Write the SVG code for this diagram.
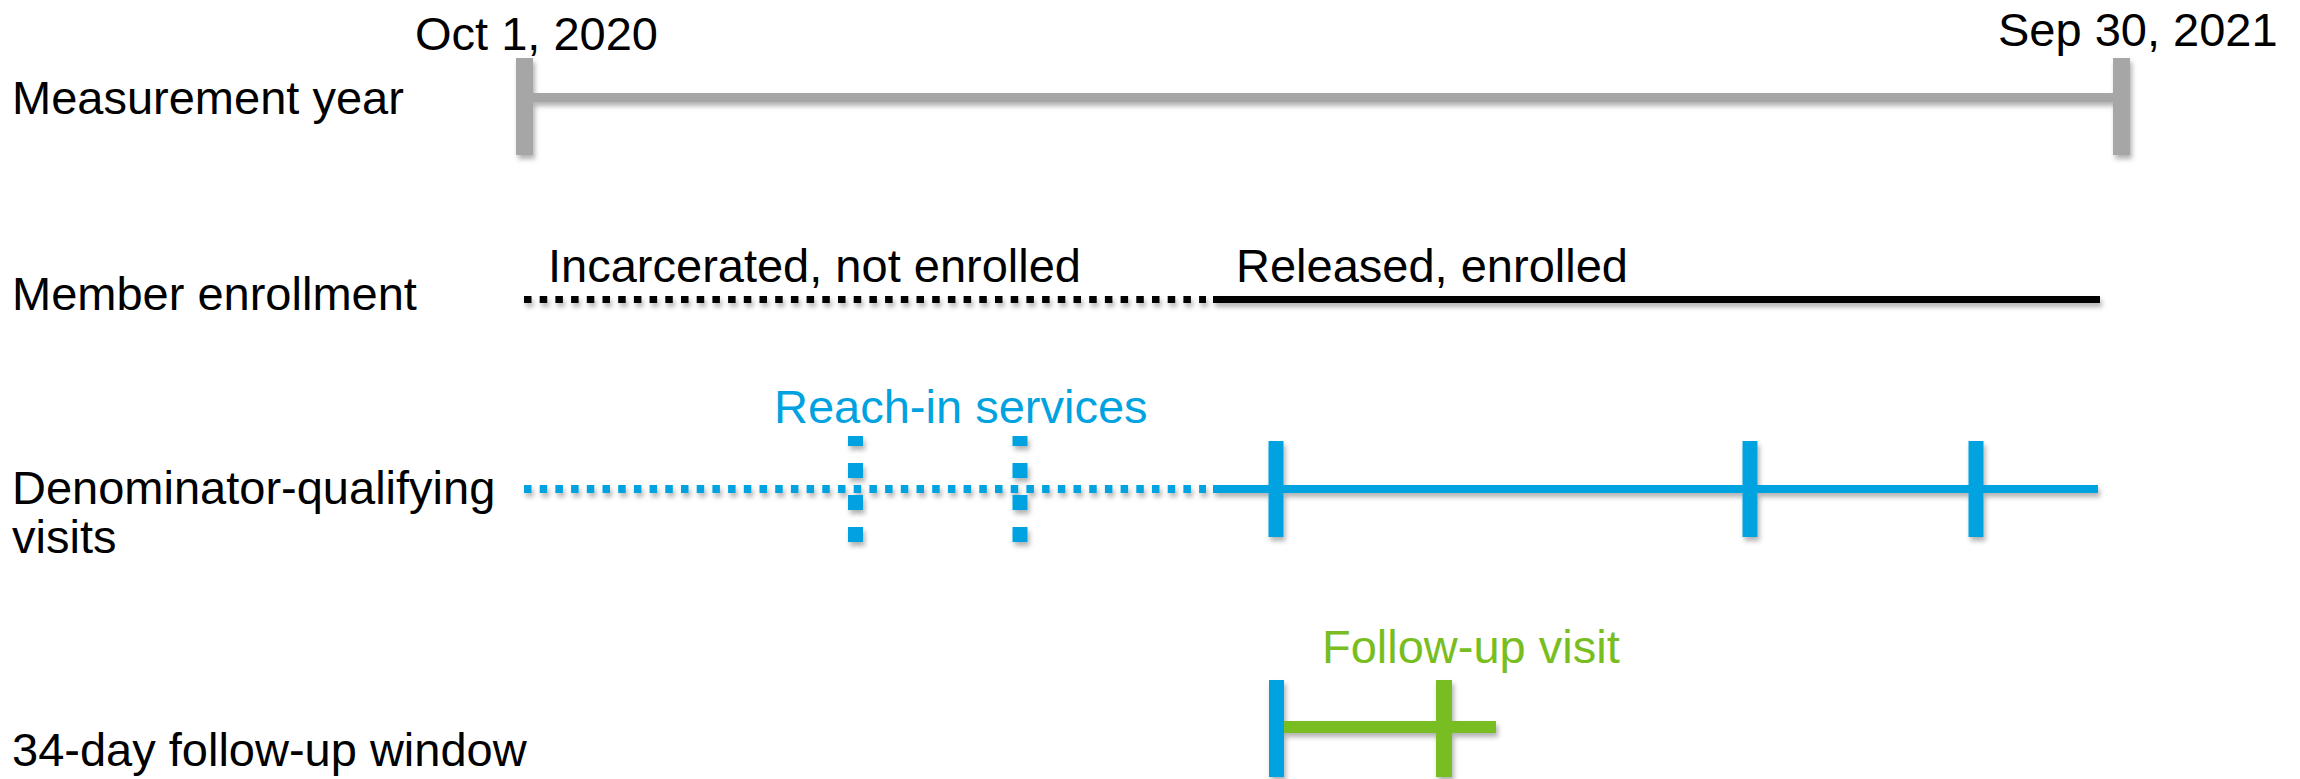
<svg xmlns="http://www.w3.org/2000/svg" width="2300" height="779" viewBox="0 0 2300 779">
<defs>
<filter id="sh" filterUnits="userSpaceOnUse" x="0" y="0" width="2300" height="779">
<feDropShadow dx="2" dy="4" stdDeviation="2.5" flood-color="#000" flood-opacity="0.3"/>
</filter>
<style>
text{font-family:"Liberation Sans",Arial,sans-serif;font-size:47px;fill:#000}
.blue{fill:#00A3E0}
.green{fill:#78BE20}
.grey{fill:#A6A6A6}
.lb{stroke:#00A3E0;fill:none}
.lk{stroke:#000;fill:none}
.dot{stroke-dasharray:7.5 8.2}
</style>
</defs>
<rect width="2300" height="779" fill="#fff"/>

<g id="labels">
<text x="12" y="114">Measurement year</text>
<text x="12" y="310">Member enrollment</text>
<text x="12" y="504">Denominator-qualifying</text>
<text x="12" y="553">visits</text>
<text x="12" y="766">34-day follow-up window</text>
</g>

<g id="measurement-year">
<text x="415" y="50">Oct 1, 2020</text>
<text x="1998" y="46">Sep 30, 2021</text>
<g filter="url(#sh)">
<rect class="grey" x="533" y="93" width="1580" height="9"/>
<rect class="grey" x="516" y="58" width="17" height="97"/>
<rect class="grey" x="2113" y="58" width="17" height="97"/>
</g>
</g>

<g id="member-enrollment">
<text x="548" y="282">Incarcerated, not enrolled</text>
<text x="1236" y="282">Released, enrolled</text>
<g filter="url(#sh)">
<line class="lk dot" x1="524" y1="299.5" x2="1206" y2="299.5" stroke-width="7"/>
<line class="lk" x1="1213" y1="299.5" x2="2100" y2="299.5" stroke-width="7"/>
</g>
</g>

<g id="denominator-visits">
<text class="blue" x="774" y="423">Reach-in services</text>
<g filter="url(#sh)">
<line class="lb dot" x1="524" y1="489" x2="1206" y2="489" stroke-width="8"/>
<line class="lb" x1="1213" y1="489" x2="2098" y2="489" stroke-width="8"/>
<line class="lb" x1="855.5" y1="542" x2="855.5" y2="436" stroke-width="15" stroke-dasharray="15 17"/>
<line class="lb" x1="1020" y1="542" x2="1020" y2="436" stroke-width="15" stroke-dasharray="15 17"/>
<rect class="blue" x="1268.5" y="441" width="15" height="96"/>
<rect class="blue" x="1742.5" y="441" width="15" height="96"/>
<rect class="blue" x="1968.5" y="441" width="15" height="96"/>
</g>
</g>

<g id="follow-up-window">
<text class="green" x="1322" y="663">Follow-up visit</text>
<g filter="url(#sh)">
<rect class="green" x="1284" y="721" width="212" height="12"/>
<rect class="blue" x="1269" y="680" width="15" height="97"/>
<rect class="green" x="1436" y="680" width="16" height="97"/>
</g>
</g>
</svg>
